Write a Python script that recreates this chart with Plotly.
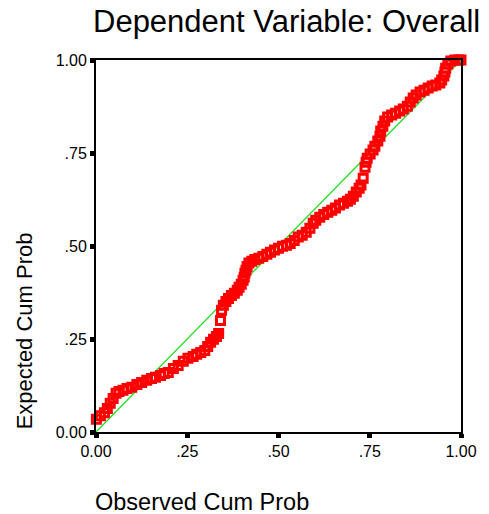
import plotly.graph_objects as go

observed_cum_prob = [
    0.001, 0.012, 0.023, 0.031, 0.039, 0.047, 0.055, 0.063, 0.074, 0.085,
    0.098, 0.112, 0.125, 0.139, 0.152, 0.163, 0.177, 0.187, 0.198, 0.212,
    0.225, 0.239, 0.252, 0.266, 0.276, 0.287, 0.298, 0.306, 0.314, 0.322,
    0.330, 0.336, 0.341, 0.344, 0.349, 0.356, 0.363, 0.371, 0.379, 0.387,
    0.392, 0.398, 0.403, 0.406, 0.408, 0.411, 0.414, 0.419, 0.427, 0.435,
    0.446, 0.457, 0.468, 0.478, 0.489, 0.500, 0.511, 0.522, 0.532, 0.543,
    0.554, 0.565, 0.576, 0.586, 0.595, 0.602, 0.613, 0.624, 0.635, 0.646,
    0.656, 0.667, 0.678, 0.689, 0.697, 0.705, 0.713, 0.721, 0.726, 0.732,
    0.737, 0.740, 0.743, 0.751, 0.759, 0.764, 0.772, 0.778, 0.780, 0.786,
    0.791, 0.799, 0.810, 0.821, 0.832, 0.842, 0.853, 0.861, 0.869, 0.877,
    0.888, 0.899, 0.910, 0.921, 0.931, 0.942, 0.947, 0.953, 0.956, 0.958,
    0.964, 0.972, 0.983, 0.993, 1.000,
]
expected_cum_prob = [
    0.034, 0.044, 0.052, 0.063, 0.077, 0.090, 0.104, 0.109, 0.112, 0.117,
    0.120, 0.128, 0.133, 0.139, 0.144, 0.147, 0.152, 0.157, 0.160, 0.171,
    0.179, 0.190, 0.198, 0.203, 0.209, 0.214, 0.219, 0.230, 0.241, 0.249,
    0.257, 0.265, 0.300, 0.327, 0.341, 0.351, 0.359, 0.367, 0.373, 0.381,
    0.389, 0.397, 0.408, 0.416, 0.427, 0.435, 0.445, 0.454, 0.459, 0.464,
    0.467, 0.472, 0.478, 0.483, 0.489, 0.494, 0.499, 0.502, 0.507, 0.515,
    0.524, 0.529, 0.537, 0.548, 0.561, 0.569, 0.577, 0.585, 0.591, 0.596,
    0.602, 0.610, 0.615, 0.620, 0.626, 0.634, 0.645, 0.655, 0.664, 0.682,
    0.712, 0.725, 0.736, 0.747, 0.758, 0.768, 0.782, 0.795, 0.809, 0.822,
    0.836, 0.847, 0.852, 0.857, 0.863, 0.868, 0.876, 0.887, 0.898, 0.906,
    0.914, 0.919, 0.925, 0.930, 0.933, 0.938, 0.946, 0.957, 0.968, 0.978,
    0.989, 0.997, 1.000, 1.000, 1.000,
]
ref_line = [0.0, 1.0]
tick_vals = [0.0, 0.25, 0.5, 0.75, 1.0]
tick_text = ["0.00", ".25", ".50", ".75", "1.00"]

FONT = "Liberation Sans, Arial, sans-serif"

# plot area spans x 96..468, y 60..432 on the page
W, H = 489, 514
PL, PR, PT, PB = 96, 468, 60, 432
PW, PH = PR - PL, PB - PT

fig = go.Figure()
fig.add_trace(go.Scatter(
    x=ref_line, y=ref_line, mode="lines",
    line=dict(color="#22dd22", width=1.3), hoverinfo="skip", showlegend=False,
))
fig.add_trace(go.Scatter(
    x=observed_cum_prob, y=expected_cum_prob, mode="markers",
    marker=dict(symbol="square-open", size=8, color="#ff0000",
                line=dict(color="#ff0000", width=3)),
    cliponaxis=False, showlegend=False,
))

axis_common = dict(
    range=[0, 1], tickvals=tick_vals, ticktext=tick_text,
    showgrid=False, zeroline=False, showline=True, mirror=True,
    linecolor="black", linewidth=2, ticks="outside", ticklen=4,
    tickwidth=5, tickcolor="black",
    tickfont=dict(family=FONT, size=16, color="black"),
)

def px_x(p):
    return (p - PL) / PW

def px_y(p):
    return (PB - p) / PH

fig.update_layout(
    width=W, height=H,
    margin=dict(l=PL, r=W - PR, t=PT, b=H - PB),
    paper_bgcolor="white", plot_bgcolor="white",
    xaxis=dict(**axis_common),
    yaxis=dict(**axis_common),
    font=dict(family=FONT, color="black"),
    annotations=[
        dict(text="Dependent Variable: Overall", xref="paper", yref="paper",
             x=px_x(290), y=px_y(21), xanchor="center", yanchor="middle",
             showarrow=False, borderpad=0,
             font=dict(size=31, family=FONT, color="black")),
        dict(text="Expected Cum Prob", xref="paper", yref="paper",
             x=px_x(23), y=px_y(331), xanchor="center", yanchor="middle",
             textangle=-90, showarrow=False,
             font=dict(size=22, family=FONT, color="black")),
        dict(text="Observed Cum Prob", xref="paper", yref="paper",
             x=px_x(204), y=px_y(502), xanchor="center", yanchor="middle",
             showarrow=False, borderpad=0,
             font=dict(size=23.5, family=FONT, color="black")),
    ],
)

fig.write_html(
    "out.html",
    config={"displayModeBar": False},
    post_script="document.body.style.margin='0';document.body.style.overflow='hidden';",
)
